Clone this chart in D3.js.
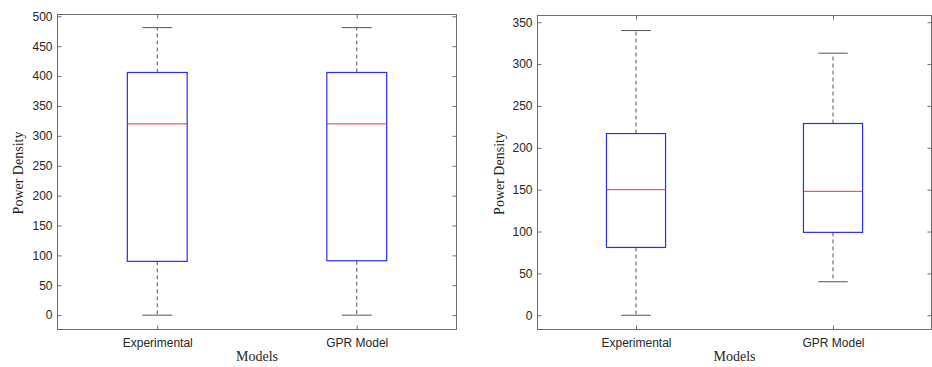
<!DOCTYPE html>
<html>
<head>
<meta charset="utf-8">
<script src="https://cdn.jsdelivr.net/npm/d3@7"></script>
<style>
  body { margin: 0; background: #fff; }
  svg text { fill: #262626; }
</style>
</head>
<body>
<svg id="chart" width="932" height="367"></svg>
<script>
// box plot summaries
const categories = ['Experimental', 'GPR Model'];

const leftMin = [0, 0];
const leftQ1 = [90, 91];
const leftMedian = [320, 320];
const leftQ3 = [406, 406];
const leftMax = [481, 481];
const leftTicks = [0, 50, 100, 150, 200, 250, 300, 350, 400, 450, 500];

const rightMin = [0, 40];
const rightQ1 = [81, 99];
const rightMedian = [150, 148];
const rightQ3 = [217, 229];
const rightMax = [340, 313];
const rightTicks = [0, 50, 100, 150, 200, 250, 300, 350];

const svg = d3.select('#chart');
const axisColor = '#6e6e6e';
const sans = '"Liberation Sans", Arial, Helvetica, sans-serif';
const serif = '"Liberation Serif", "Times New Roman", serif';

function panel(opts) {
  const { left, right, top, bottom, ydomain, ticks, mins, q1s, meds, q3s, maxs, ylabelX } = opts;
  const g = svg.append('g');

  const x = d3.scaleLinear().domain([0.5, 2.5]).range([left, right]);
  const y = d3.scaleLinear().domain(ydomain).range([bottom, top]);

  const boxW = 0.3, capW = 0.15;

  // frame
  g.append('rect')
    .attr('x', left).attr('y', top)
    .attr('width', right - left).attr('height', bottom - top)
    .attr('fill', 'none').attr('stroke', axisColor).attr('stroke-width', 1);

  const styleAxis = sel => {
    sel.select('.domain').remove();
    sel.selectAll('line').attr('stroke', axisColor);
    sel.selectAll('text').attr('font-family', sans).attr('font-size', 12).attr('fill', '#262626');
  };

  g.append('g').attr('transform', `translate(${left},0)`)
    .call(d3.axisLeft(y).tickValues(ticks).tickSize(-4).tickPadding(5))
    .call(styleAxis);
  g.append('g').attr('transform', `translate(${right},0)`)
    .call(d3.axisRight(y).tickValues(ticks).tickSize(-4).tickFormat(''))
    .call(styleAxis);
  g.append('g').attr('transform', `translate(0,${bottom})`)
    .call(d3.axisBottom(x).tickValues([1, 2]).tickSize(-4).tickPadding(9)
      .tickFormat(d => categories[d - 1]))
    .call(styleAxis);
  g.append('g').attr('transform', `translate(0,${top})`)
    .call(d3.axisTop(x).tickValues([1, 2]).tickSize(-4).tickFormat(''))
    .call(styleAxis);

  const data = categories.map((c, i) => ({
    pos: i + 1, min: mins[i], q1: q1s[i], med: meds[i], q3: q3s[i], max: maxs[i]
  }));

  const b = g.selectAll('.box').data(data).enter().append('g').attr('class', 'box');

  // whiskers
  b.append('line')
    .attr('x1', d => x(d.pos)).attr('x2', d => x(d.pos))
    .attr('y1', d => y(d.q3)).attr('y2', d => y(d.max))
    .attr('stroke', '#555').attr('stroke-dasharray', '4,3');
  b.append('line')
    .attr('x1', d => x(d.pos)).attr('x2', d => x(d.pos))
    .attr('y1', d => y(d.q1)).attr('y2', d => y(d.min))
    .attr('stroke', '#555').attr('stroke-dasharray', '4,3');
  // caps
  b.append('line')
    .attr('x1', d => x(d.pos - capW / 2)).attr('x2', d => x(d.pos + capW / 2))
    .attr('y1', d => y(d.max)).attr('y2', d => y(d.max))
    .attr('stroke', '#555');
  b.append('line')
    .attr('x1', d => x(d.pos - capW / 2)).attr('x2', d => x(d.pos + capW / 2))
    .attr('y1', d => y(d.min)).attr('y2', d => y(d.min))
    .attr('stroke', '#555');
  // box
  b.append('rect')
    .attr('x', d => x(d.pos - boxW / 2))
    .attr('width', d => x(d.pos + boxW / 2) - x(d.pos - boxW / 2))
    .attr('y', d => y(d.q3))
    .attr('height', d => y(d.q1) - y(d.q3))
    .attr('fill', 'none').attr('stroke', '#2b2bff').attr('stroke-width', 1.2);
  // median
  b.append('line')
    .attr('x1', d => x(d.pos - boxW / 2)).attr('x2', d => x(d.pos + boxW / 2))
    .attr('y1', d => y(d.med)).attr('y2', d => y(d.med))
    .attr('stroke', '#ee3333').attr('stroke-width', 1);

  // axis titles
  g.append('text')
    .attr('transform', `translate(${ylabelX},${(top + bottom) / 2 + 1}) rotate(-90)`)
    .attr('text-anchor', 'middle')
    .attr('font-family', serif).attr('font-size', 14)
    .text('Power Density');
  g.append('text')
    .attr('x', (left + right) / 2).attr('y', 361)
    .attr('text-anchor', 'middle')
    .attr('font-family', serif).attr('font-size', 14)
    .text('Models');
}

panel({
  left: 57.5, right: 456.5, top: 14.5, bottom: 329.5,
  ydomain: [-24, 503], ticks: leftTicks,
  mins: leftMin, q1s: leftQ1, meds: leftMedian, q3s: leftQ3, maxs: leftMax,
  ylabelX: 23
});

panel({
  left: 537.5, right: 931.5, top: 15.5, bottom: 329.5,
  ydomain: [-17, 358], ticks: rightTicks,
  mins: rightMin, q1s: rightQ1, meds: rightMedian, q3s: rightQ3, maxs: rightMax,
  ylabelX: 504
});
</script>
</body>
</html>
